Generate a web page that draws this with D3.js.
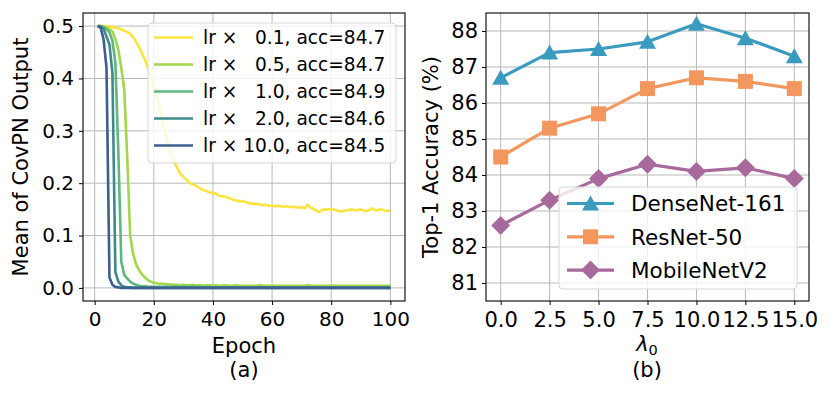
<!DOCTYPE html>
<html>
<head>
<meta charset="utf-8">
<script src="https://cdn.jsdelivr.net/npm/d3@7"></script>
<style>
  body { margin: 0; background: #fff; }
  text { font-family: "DejaVu Sans", sans-serif; fill: #000; }
</style>
</head>
<body>
<div class="canvas"></div>
<script>
// ---- data: panel (a) mean of CovPN output per epoch ----
const epochs = d3.range(1, 101);
const lrLabels = ['lr \u00d7   0.1, acc=84.7', 'lr \u00d7   0.5, acc=84.7', 'lr \u00d7   1.0, acc=84.9', 'lr \u00d7   2.0, acc=84.6', 'lr \u00d7 10.0, acc=84.5'];
const lrColors = ['#fae442', '#a1d74a', '#5db87b', '#3e8a8b', '#3b5f8e'];

const meanLr01 = [
  .500, .500, .500, .499, .499, .498, .497, .496, .494, .491,
  .489, .485, .479, .470, .460, .448, .436, .421, .404, .386,
  .365, .345, .315, .292, .274, .255, .240, .228, .218, .212,
  .207, .201, .198, .196, .193, .189, .186, .185, .182, .181,
  .180, .176, .175, .174, .173, .170, .168, .167, .165, .166,
  .164, .162, .161, .161, .160, .159, .158, .159, .157, .157,
  .156, .157, .156, .155, .156, .155, .154, .155, .153, .154,
  .152, .159, .153, .151, .147, .145, .149, .150, .150, .150,
  .149, .148, .146, .147, .148, .149, .150, .148, .149, .150,
  .148, .147, .149, .152, .148, .149, .150, .148, .147, .148
];
const meanLr05 = [
  .500, .500, .499, .497, .494, .490, .475, .455, .420, .380,
  .250, .100, .065, .045, .034, .026, .020, .015, .012, .010,
  .009, .008, .008, .007, .007, .006, .006, .006, .005, .006,
  .005, .005, .006, .005, .005, .005, .004, .005, .005, .004,
  .005, .004, .004, .005, .004, .004, .004, .005, .004, .004,
  .004, .004, .004, .004, .004, .005, .004, .004, .004, .004,
  .004, .004, .004, .004, .004, .004, .004, .004, .004, .004,
  .004, .005, .004, .004, .004, .004, .004, .004, .004, .004,
  .004, .004, .004, .004, .004, .004, .004, .004, .004, .004,
  .004, .004, .004, .004, .004, .004, .004, .004, .004, .004
];
const meanLr1 = [
  .500, .500, .498, .494, .488, .472, .430, .260, .050, .025,
  .018, .012, .008, .006, .004, .003, .003, .002, .002, .002,
  .002, .002, .002, .002, .002, .002, .002, .002, .002, .002,
  .002, .002, .002, .002, .002, .001, .002, .001, .001, .001,
  .001, .001, .001, .001, .001, .001, .001, .001, .001, .001,
  .001, .001, .001, .001, .001, .001, .001, .001, .001, .001,
  .001, .001, .001, .001, .001, .001, .001, .001, .001, .001,
  .001, .001, .001, .001, .001, .001, .001, .001, .001, .001,
  .001, .001, .001, .001, .001, .001, .001, .001, .001, .001,
  .001, .001, .001, .001, .001, .001, .001, .001, .001, .001
];
const meanLr2 = [
  .500, .499, .495, .480, .465, .410, .030, .012, .005, .002,
  .001, .001, 0, 0, 0, 0, 0, 0, 0, 0,
  0, 0, 0, 0, 0, 0, 0, 0, 0, 0,
  0, 0, 0, 0, 0, 0, 0, 0, 0, 0,
  0, 0, 0, 0, 0, 0, 0, 0, 0, 0,
  0, 0, 0, 0, 0, 0, 0, 0, 0, 0,
  0, 0, 0, 0, 0, 0, 0, 0, 0, 0,
  0, 0, 0, 0, 0, 0, 0, 0, 0, 0,
  0, 0, 0, 0, 0, 0, 0, 0, 0, 0,
  0, 0, 0, 0, 0, 0, 0, 0, 0, 0
];
const meanLr10 = [
  .500, .497, .475, .420, .020, .006, .002, .001, 0, 0,
  0, 0, 0, 0, 0, 0, 0, 0, 0, 0,
  0, 0, 0, 0, 0, 0, 0, 0, 0, 0,
  0, 0, 0, 0, 0, 0, 0, 0, 0, 0,
  0, 0, 0, 0, 0, 0, 0, 0, 0, 0,
  0, 0, 0, 0, 0, 0, 0, 0, 0, 0,
  0, 0, 0, 0, 0, 0, 0, 0, 0, 0,
  0, 0, 0, 0, 0, 0, 0, 0, 0, 0,
  0, 0, 0, 0, 0, 0, 0, 0, 0, 0,
  0, 0, 0, 0, 0, 0, 0, 0, 0, 0
];
const meanSeries = [meanLr01, meanLr05, meanLr1, meanLr2, meanLr10];
const epochTicks = [0, 20, 40, 60, 80, 100];
const meanTicks = [0, 0.1, 0.2, 0.3, 0.4, 0.5];

// ---- data: panel (b) top-1 accuracy vs lambda0 ----
const lambdas = [0, 2.5, 5, 7.5, 10, 12.5, 15];
const denseAcc = [86.7, 87.4, 87.5, 87.7, 88.2, 87.8, 87.3];
const resAcc = [84.5, 85.3, 85.7, 86.4, 86.7, 86.6, 86.4];
const mobileAcc = [82.6, 83.3, 83.9, 84.3, 84.1, 84.2, 83.9];
const netNames = ['DenseNet-161', 'ResNet-50', 'MobileNetV2'];
const netColors = ['#3b9bbf', '#f4975e', '#a86a9c'];
const netMarkers = ['triangle', 'square', 'diamond'];
const accTicks = [81, 82, 83, 84, 85, 86, 87, 88];

const svg = d3.select('.canvas')
    .append('svg')
    .attr('width', 830)
    .attr('height', 398);

const markerPath = (type) => {
    if (type === 'triangle') return 'M0,-8L8.5,7L-8.5,7Z';
    if (type === 'square') return 'M-7.5,-7.5H7.5V7.5H-7.5Z';
    return 'M0,-9.5L9.5,0L0,9.5L-9.5,0Z';
};

// generic frame + grid + axes
const drawAxes = (g, x, y, xt, yt, xfmt, yfmt, fs, ypad) => {
    const [x0, x1] = x.range();
    const [y0, y1] = y.range();
    g.append('g').selectAll('line.gx').data(xt).enter().append('line')
        .attr('x1', d => x(d)).attr('x2', d => x(d)).attr('y1', y1).attr('y2', y0)
        .attr('stroke', '#b8b8b8').attr('stroke-width', 1);
    g.append('g').selectAll('line.gy').data(yt).enter().append('line')
        .attr('x1', x0).attr('x2', x1).attr('y1', d => y(d)).attr('y2', d => y(d))
        .attr('stroke', '#b8b8b8').attr('stroke-width', 1);

    const ax = g.append('g').attr('transform', `translate(0,${y0})`)
        .call(d3.axisBottom(x).tickValues(xt).tickFormat(xfmt).tickSize(4).tickPadding(7));
    const ay = g.append('g').attr('transform', `translate(${x0},0)`)
        .call(d3.axisLeft(y).tickValues(yt).tickFormat(yfmt).tickSize(4).tickPadding(ypad));
    [ax, ay].forEach(a => {
        a.select('.domain').remove();
        a.selectAll('text').style('font-size', fs + 'px').attr('font-family', '"DejaVu Sans", sans-serif');
        a.selectAll('line').attr('stroke', '#000');
    });
};

// ---------------- panel (a) ----------------
const xA = d3.scaleLinear().domain([-3.95, 104.95]).range([83, 405]);
const yA = d3.scaleLinear().domain([-0.025, 0.525]).range([301, 13]);
const gA = svg.append('g');
drawAxes(gA, xA, yA, epochTicks, meanTicks, d3.format('d'), d3.format('.1f'), 20, 5);

const lineA = d3.line().x((d, i) => xA(epochs[i])).y(d => yA(d));
gA.selectAll('path.curve').data(meanSeries).enter().append('path')
    .attr('class', 'curve')
    .attr('d', lineA)
    .attr('fill', 'none')
    .attr('stroke', (d, i) => lrColors[i])
    .attr('stroke-width', 2.6)
    .attr('stroke-linejoin', 'round');

gA.append('rect').attr('x', 83).attr('y', 13).attr('width', 322).attr('height', 288)
    .attr('fill', 'none').attr('stroke', '#000').attr('stroke-width', 1.1);

// legend (a)
const legA = gA.append('g');
legA.append('rect').attr('x', 148).attr('y', 23).attr('width', 248).attr('height', 140).attr('rx', 4)
    .attr('fill', '#fff').attr('fill-opacity', 0.8).attr('stroke', '#d6d6d6');
lrLabels.forEach((lab, i) => {
    const ry = 37.5 + i * 27;
    legA.append('line').attr('x1', 154).attr('x2', 193).attr('y1', ry).attr('y2', ry)
        .attr('stroke', lrColors[i]).attr('stroke-width', 2.6);
    legA.append('text').attr('x', 203).attr('y', ry).attr('dy', '0.36em')
        .attr('xml:space', 'preserve').style('white-space', 'pre')
        .style('font-size', '18.6px').text(lab);
});

gA.append('text').attr('transform', 'translate(28,157) rotate(-90)').attr('text-anchor', 'middle')
    .style('font-size', '21px').text('Mean of CovPN Output');
gA.append('text').attr('x', 244).attr('y', 353).attr('text-anchor', 'middle')
    .style('font-size', '21px').text('Epoch');
gA.append('text').attr('x', 244).attr('y', 377).attr('text-anchor', 'middle')
    .style('font-size', '21px').text('(a)');

// ---------------- panel (b) ----------------
const xB = d3.scaleLinear().domain([-0.75, 15.75]).range([486, 809]);
const yB = d3.scaleLinear().domain([80.5, 88.5]).range([301, 13]);
const gB = svg.append('g');
drawAxes(gB, xB, yB, lambdas, accTicks, d3.format('.1f'), d3.format('d'), 21, 4);

const accSeries = [denseAcc, resAcc, mobileAcc];
const lineB = d3.line().x((d, i) => xB(lambdas[i])).y(d => yB(d));
accSeries.forEach((s, k) => {
    gB.append('path').attr('d', lineB(s)).attr('fill', 'none')
        .attr('stroke', netColors[k]).attr('stroke-width', 3.2).attr('stroke-linejoin', 'round');
    gB.append('g').selectAll('path').data(s).enter().append('path')
        .attr('transform', (d, i) => `translate(${xB(lambdas[i])},${yB(d)})`)
        .attr('d', markerPath(netMarkers[k]))
        .attr('fill', netColors[k]);
});

gB.append('rect').attr('x', 486).attr('y', 13).attr('width', 323).attr('height', 288)
    .attr('fill', 'none').attr('stroke', '#000').attr('stroke-width', 1.1);

// legend (b)
const legB = gB.append('g');
legB.append('rect').attr('x', 559).attr('y', 187).attr('width', 238).attr('height', 102).attr('rx', 4)
    .attr('fill', '#fff').attr('fill-opacity', 0.8).attr('stroke', '#d6d6d6');
netNames.forEach((name, k) => {
    const ry = 203.5 + k * 33.3;
    legB.append('line').attr('x1', 567).attr('x2', 614).attr('y1', ry).attr('y2', ry)
        .attr('stroke', netColors[k]).attr('stroke-width', 3.2);
    legB.append('path').attr('transform', `translate(590.5,${ry})`)
        .attr('d', markerPath(netMarkers[k])).attr('fill', netColors[k]);
    legB.append('text').attr('x', 631).attr('y', ry).attr('dy', '0.36em')
        .style('font-size', '21.5px').text(name);
});

gB.append('text').attr('transform', 'translate(438,157) rotate(-90)').attr('text-anchor', 'middle')
    .style('font-size', '21px').text('Top-1 Accuracy (%)');
const lam = gB.append('text').attr('x', 647).attr('y', 351).attr('text-anchor', 'middle')
    .style('font-size', '21px');
lam.append('tspan').style('font-style', 'italic').text('\u03bb');
lam.append('tspan').attr('dy', 3.5).style('font-size', '14.5px').text('0');
gB.append('text').attr('x', 647).attr('y', 377).attr('text-anchor', 'middle')
    .style('font-size', '21px').text('(b)');
</script>
</body>
</html>
